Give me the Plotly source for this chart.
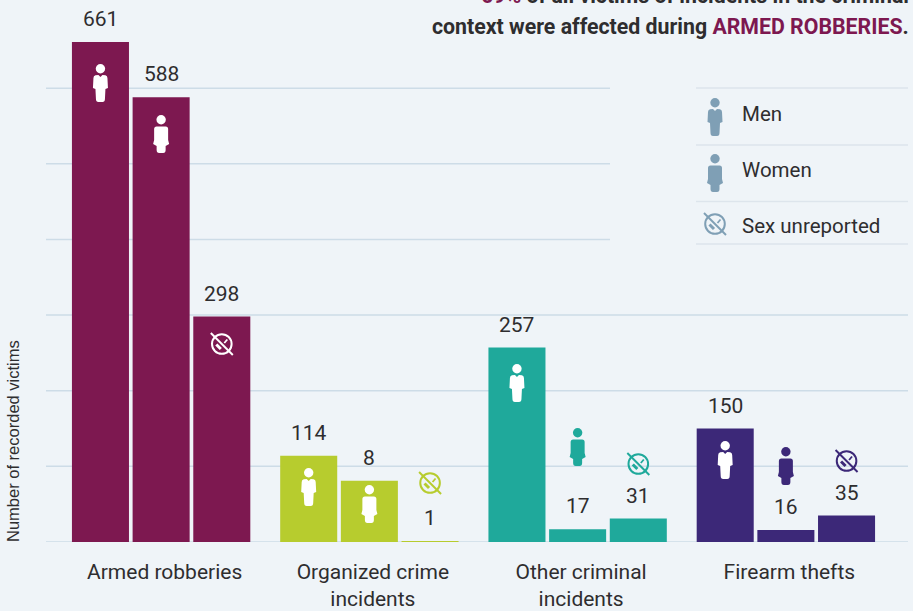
import base64
import plotly.graph_objects as go

categories = ["Armed robberies", "Organized crime<br>incidents", "Other criminal<br>incidents", "Firearm thefts"]
men = [661, 114, 257, 150]
women = [588, 81, 17, 16]
unreported = [298, 1, 31, 35]
men_labels = ["661", "114", "257", "150"]
women_labels = ["588", "8", "17", "16"]
unreported_labels = ["298", "1", "31", "35"]
colors = ["#7D1850", "#B7CC2E", "#1FA99B", "#3C2878"]
long_grid = [0, 100, 200, 300]
short_grid = [400, 500, 600]

FONT = "Roboto, sans-serif"
INK = "#2E2D2F"
BG = "#EFF4F8"
GRID = "#CDDCE7"
LEGEND_LINE = "#DDE5EC"
LEGEND_ICON = "#7F9FB5"

# plot area in page pixels
PX_LEFT, PX_RIGHT, PX_BOTTOM = 57, 890, 542
GROUP_W = (PX_RIGHT - PX_LEFT) / 4
BAR_STEP = 0.2914


def xp(px):
    return (px - PX_LEFT) / (PX_RIGHT - PX_LEFT)


def yp(py):
    return (PX_BOTTOM - py) / PX_BOTTOM


def icon(kind, color):
    if kind == "man":
        body = (f'<circle cx="20" cy="5.7" r="4.7" fill="{color}"/>'
                f'<path fill="{color}" d="M15 12.3 L18 12 L20 14 L22 12 L25 12.3 Q27 13 27 15 L27.5 25 L25 26 '
                f'L24.5 36 Q24.5 39 22 39 L18 39 Q15.5 39 15.5 36 L15 26 L12.5 25 L13 15 Q13 13 15 12.3 Z"/>')
    elif kind == "woman":
        body = (f'<circle cx="20" cy="5.7" r="4.7" fill="{color}"/>'
                f'<path fill="{color}" d="M15.5 12.5 L24.5 12.5 Q27 12.5 27 15 L27 26 L28 30 L24.5 32 L24.5 36 '
                f'Q24.5 39 22 39 L18 39 Q15.5 39 15.5 36 L15.5 32 L12 30 L13 26 L13 15 Q13 12.5 15.5 12.5 Z"/>')
    else:
        body = (f'<circle cx="20" cy="20" r="9.8" fill="none" stroke="{color}" stroke-width="2"/>'
                f'<path d="M9 9 L31 31" stroke="{color}" stroke-width="2"/>'
                f'<path d="M14.5 20.5 L19 25" stroke="{color}" stroke-width="3"/>'
                f'<path d="M22.5 19 L25.5 15.5" stroke="{color}" stroke-width="1.8"/>')
    svg = f'<svg xmlns="http://www.w3.org/2000/svg" width="40" height="40" viewBox="0 0 40 40">{body}</svg>'
    return "data:image/svg+xml;base64," + base64.b64encode(svg.encode()).decode()


fig = go.Figure()
for vals, labels, name in [(men, men_labels, "Men"), (women, women_labels, "Women"),
                           (unreported, unreported_labels, "Sex unreported")]:
    fig.add_trace(go.Bar(x=list(range(4)), y=vals, name=name, marker=dict(color=colors, line_width=0),
                         customdata=labels, hovertemplate="%{customdata}<extra>" + name + "</extra>"))

# value labels sit a fixed distance above each bar
annotations = []
for j, (vals, labels) in enumerate([(men, men_labels), (women, women_labels), (unreported, unreported_labels)]):
    for i in range(4):
        annotations.append(dict(x=i + (j - 1) * BAR_STEP, y=vals[i], xref="x", yref="y", text=labels[i],
                                showarrow=False, yshift=23, font=dict(family=FONT, size=21, color=INK)))

# pictograms: centre height on the page for each bar
images = []
icon_rows = [("man", [83, 487, 383, 460], ["#FFFFFF"] * 4),
             ("woman", [134, 504, 447, 466], ["#FFFFFF", "#FFFFFF", colors[2], colors[3]]),
             ("unknown", [344, 483, 464, 461], ["#FFFFFF", colors[1], colors[2], colors[3]])]
for j, (kind, rows, tints) in enumerate(icon_rows):
    for i in range(4):
        images.append(dict(source=icon(kind, tints[i]), x=i + (j - 1) * BAR_STEP, y=yp(rows[i]), xref="x", yref="paper",
                           sizex=40 / GROUP_W, sizey=40 / PX_BOTTOM, xanchor="center", yanchor="middle",
                           sizing="contain", layer="above"))

# hand-made legend at the right
for kind, py, label in [("man", 114, "Men"), ("woman", 170, "Women"), ("unknown", 226, "Sex unreported")]:
    images.append(dict(source=icon(kind, LEGEND_ICON), x=xp(715), y=yp(py + (3 if kind != "unknown" else -2)),
                       xref="paper", yref="paper", sizex=40 / (PX_RIGHT - PX_LEFT), sizey=40 / PX_BOTTOM,
                       xanchor="center", yanchor="middle", layer="above"))
    annotations.append(dict(x=xp(740), y=yp(py), xref="paper", yref="paper", text=label,
                            xanchor="left", yanchor="middle", showarrow=False,
                            font=dict(family=FONT, size=20.5, color=INK)))

# headline runs off the top of the page
annotations.append(dict(x=xp(911), y=yp(-5), xref="paper", yref="paper", xanchor="right", yanchor="middle", showarrow=False,
                        text='<span style="color:#7D1850">69%</span> of all victims of incidents in the criminal',
                        font=dict(family=FONT, size=21.3, color=INK, weight="bold")))
annotations.append(dict(x=xp(911), y=yp(26), xref="paper", yref="paper", xanchor="right", yanchor="middle", showarrow=False,
                        text='context were affected during <span style="color:#7D1850">ARMED ROBBERIES</span>.',
                        font=dict(family=FONT, size=21.3, color=INK, weight="bold")))
annotations.append(dict(x=xp(13), y=yp(441), xref="paper", yref="paper", xanchor="center", yanchor="middle",
                        textangle=-90, showarrow=False, text="Number of recorded victims",
                        font=dict(family="Liberation Sans, Arial, sans-serif", size=16.5, color=INK)))

shapes = []
for v in long_grid:
    shapes.append(dict(type="line", layer="below", xref="paper", yref="y", x0=xp(46), x1=xp(908), y0=v, y1=v,
                       line=dict(color=GRID, width=1.5)))
for v in short_grid:
    shapes.append(dict(type="line", layer="below", xref="paper", yref="y", x0=xp(46), x1=xp(610), y0=v, y1=v,
                       line=dict(color=GRID, width=1.5)))
for py in [88, 145, 201.5, 244]:
    shapes.append(dict(type="line", layer="below", xref="paper", yref="paper", x0=xp(696), x1=xp(908),
                       y0=yp(py), y1=yp(py), line=dict(color=LEGEND_LINE, width=1.5)))

fig.update_layout(
    width=913, height=611, autosize=False,
    margin=dict(l=PX_LEFT, r=913 - PX_RIGHT, t=0, b=611 - PX_BOTTOM, pad=0),
    paper_bgcolor=BG, plot_bgcolor=BG,
    barmode="group", bargap=0.126, bargroupgap=0.06, showlegend=False,
    xaxis=dict(range=[-0.5, 3.5], tickmode="array", tickvals=[i + 3.5 / GROUP_W for i in range(4)], ticktext=categories,
               showgrid=False, zeroline=False, showline=False, ticks="", ticklabelstandoff=15, automargin=False,
               tickfont=dict(family=FONT, size=21, color=INK)),
    yaxis=dict(range=[0, 716.6], showgrid=False, zeroline=False, showticklabels=False, ticks="", automargin=False),
    annotations=annotations, images=images, shapes=shapes,
)

# the page's default body margin would push the chart off the window
fig.write_html("out.html", config={"displayModeBar": False},
               post_script="document.body.style.margin='0';document.body.style.background='#EFF4F8';")
